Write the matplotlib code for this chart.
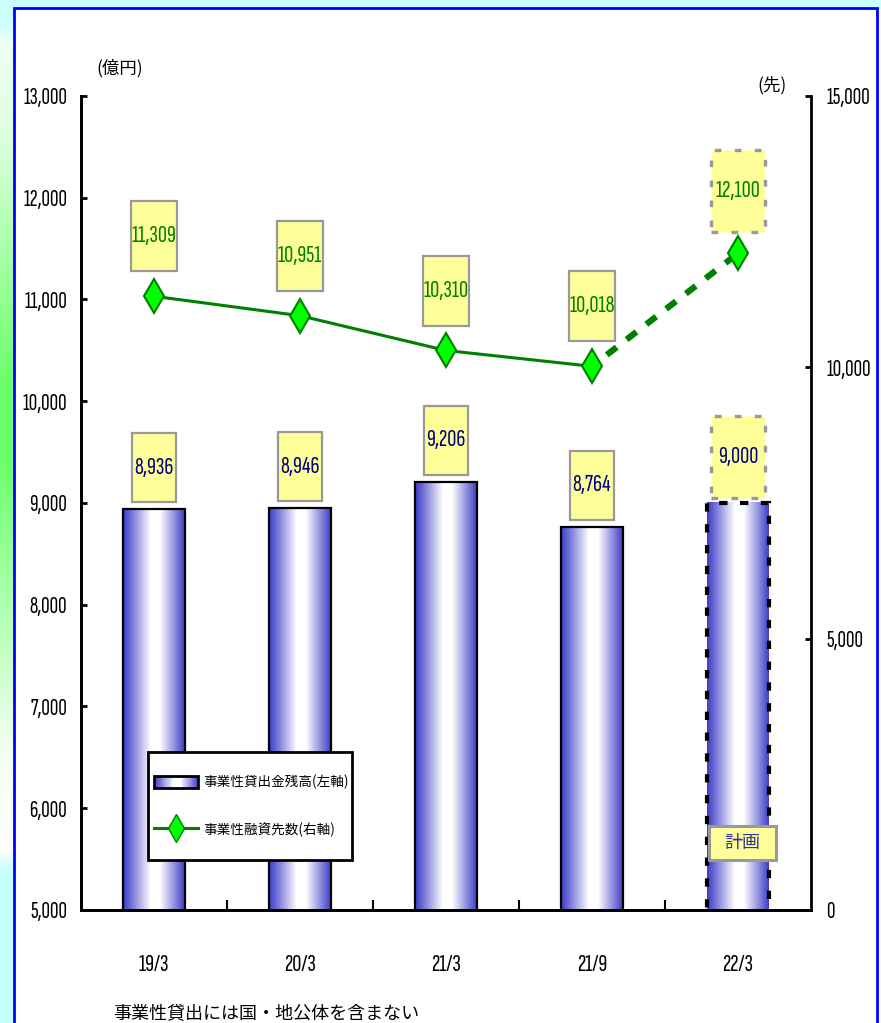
import numpy as np
import matplotlib.pyplot as plt
from matplotlib.patches import Rectangle, Patch
from matplotlib.lines import Line2D
from matplotlib.legend_handler import HandlerBase
from matplotlib.ticker import FuncFormatter

# data
categories = ['19/3', '20/3', '21/3', '21/9', '22/3']
loans = [8936, 8946, 9206, 8764, 9000]            # 事業性貸出金残高 (億円, left axis)
borrowers = [11309, 10951, 10310, 10018, 12100]   # 事業性融資先数 (先, right axis)
left_ticks = [5000, 6000, 7000, 8000, 9000, 10000, 11000, 12000, 13000]
right_ticks = [0, 5000, 10000, 15000]
series_names = ['事業性貸出金残高(左軸)', '事業性融資先数(右軸)']
plan_label = '計画'
note = '事業性貸出には国・地公体を含まない'
plan_idx = 4   # last point is a plan

plt.rcParams['font.family'] = ['Sofia Sans Extra Condensed', 'Noto Sans CJK JP', 'DejaVu Sans']
CJK = ['Noto Sans CJK JP', 'DejaVu Sans']

BLUE = np.array([0.25, 0.25, 0.79])
GREEN = '#008000'


def bar_color(t):
    # share of white across the bar width
    w = np.interp(t, [0, 0.08, 0.45, 0.6, 0.92, 1], [0, 0.15, 1, 1, 0.2, 0])
    return BLUE + (1 - BLUE) * w


class GradientHandler(HandlerBase):
    def create_artists(self, legend, orig_handle, xdescent, ydescent,
                       width, height, fontsize, trans):
        arts = []
        n = 24
        for i in range(n):
            arts.append(Rectangle((-xdescent + width * i / n, -ydescent), width / n + 0.3, height,
                                  facecolor=bar_color((i + 0.5) / n), edgecolor='none',
                                  transform=trans))
        arts.append(Rectangle((-xdescent, -ydescent), width, height, fill=False,
                              edgecolor='black', lw=2, transform=trans))
        return arts


fig = plt.figure(figsize=(8.81, 10.23), dpi=100)

# page background with the coloured strip on the left
H, W = 1023, 881
img = np.ones((H, W, 3))
img[:9, :, 0] = 0.8
ys = np.arange(H)
stops = [0, 25, 40, 130, 380, 460, 750, 850, 868, 1023]
r = np.interp(ys, stops, [0.8, 0.8, 0.93, 0.88, 0.42, 0.42, 0.95, 1.0, 0.78, 0.78])
b = np.interp(ys, stops, [1, 1, 0.95, 0.88, 0.42, 0.42, 0.95, 1.0, 1, 1])
img[:, :14, 0] = r[:, None]
img[:, :14, 2] = b[:, None]
bg = fig.add_axes([0, 0, 1, 1], zorder=-10)
bg.imshow(img, extent=(0, 1, 0, 1), aspect='auto')
bg.axis('off')
fig.add_artist(Rectangle((14 / W, -0.01), (877 - 14) / W, (H - 8) / H + 0.01,
                         transform=fig.transFigure, fill=False, edgecolor='#0000FF', lw=2))

ax = fig.add_axes([0.0919, 0.1105, 0.8286, 0.7957])
ax2 = ax.twinx()

x = np.arange(len(categories))

# bars
bars = ax.bar(x, loans, width=0.42, facecolor='none', edgecolor='black', linewidth=1.6, zorder=3)
bars[plan_idx].set_linestyle((0, (2, 3)))
bars[plan_idx].set_linewidth(3)
grad = np.array([[bar_color(t) for t in np.linspace(0, 1, 80)]])
for bar in bars:
    x0 = bar.get_x()
    ax.imshow(grad, extent=(x0, x0 + bar.get_width(), 5000, bar.get_height()),
              aspect='auto', zorder=2, interpolation='bilinear')

ax.set_xlim(-0.5, 4.5)
ax.set_ylim(5000, 13000)
ax2.set_ylim(0, 15000)


def label_box(a, xc, yb, w, h, text, color, dashed=False):
    a.add_patch(Rectangle((xc - w / 2, yb), w, h, facecolor='#FFFF99', edgecolor='#999999',
                          lw=2.4 if dashed else 1.6,
                          linestyle=(0, (2, 4)) if dashed else '-', zorder=5))
    a.text(xc, yb + h / 2, text, ha='center', va='center', color=color, fontsize=18,
           fontweight='light', zorder=6)


for i, v in enumerate(loans):
    if i == plan_idx:
        label_box(ax, i, v + 50, 0.37, 800, f'{v:,}', '#000080', dashed=True)
    else:
        label_box(ax, i, v + 70, 0.30, 680, f'{v:,}', '#000080')

for i, v in enumerate(borrowers):
    if i == plan_idx:
        label_box(ax2, i, v + 390, 0.37, 1510, f'{v:,}', GREEN, dashed=True)
    else:
        label_box(ax2, i, v + 460, 0.32, 1290, f'{v:,}', GREEN)

# plan marker box
ax.add_patch(Rectangle((plan_idx + 0.03 - 0.23, 5658 - 167), 0.46, 334, facecolor='#FFFF99',
                       edgecolor='#999999', lw=2.2, zorder=5))
ax.text(plan_idx + 0.03, 5658, plan_label, ha='center', va='center', color='#333399',
        fontsize=13, zorder=6, family=CJK)

# line
ax2.plot(x[:plan_idx], borrowers[:plan_idx], color=GREEN, lw=2.2, zorder=3)
ax2.plot(x[plan_idx - 1:], borrowers[plan_idx - 1:], color=GREEN, lw=4.5,
         linestyle=(1, (2, 2)), zorder=3)
ax2.plot(x, borrowers, linestyle='none', marker='d', ms=17, mfc='#00FF00', mec=GREEN,
         mew=1.5, zorder=4)

# axes styling
fmt = FuncFormatter(lambda v, p: f'{v:,.0f}')
ax.set_yticks(left_ticks)
ax.yaxis.set_major_formatter(fmt)
ax2.set_yticks(right_ticks)
ax2.yaxis.set_major_formatter(fmt)
ax.set_xticks(x)
ax.set_xticklabels(categories)
ax.set_xticks([0.5, 1.5, 2.5, 3.5], minor=True)
ax.tick_params(axis='x', which='major', length=0, pad=32, labelsize=18)
ax.tick_params(axis='x', which='minor', direction='in', length=7, width=1.5)
ax.tick_params(axis='y', direction='in', length=4.5, width=2, pad=10, labelsize=17)
ax2.tick_params(axis='y', direction='in', length=4.5, width=2, pad=11, labelsize=17)
for lbl in ax.get_xticklabels() + ax.get_yticklabels() + ax2.get_yticklabels():
    lbl.set_fontweight('light')
for a in (ax, ax2):
    a.spines['top'].set_visible(False)
    for s in ('left', 'right', 'bottom'):
        a.spines[s].set_linewidth(2)
ax.spines['right'].set_visible(False)

ax.text(0.053, 1.034, '(億円)', transform=ax.transAxes, ha='center', va='center',
        fontsize=12.5, family=CJK)
ax.text(0.946, 1.0135, '(先)', transform=ax.transAxes, ha='center', va='center',
        fontsize=12.5, family=CJK)
fig.text(0.302, 0.0098, note, ha='center', va='center', fontsize=13, family=CJK)

# legend with its own frame
ax2.add_patch(Rectangle((0.0919, 0.0614), 0.2798, 0.1327, transform=ax2.transAxes,
                        facecolor='white', edgecolor='black', lw=2, zorder=4.5))
handles = [Patch(facecolor=BLUE, edgecolor='black'),
           Line2D([], [], color=GREEN, lw=2.2, marker='d', ms=14, mfc='#00FF00', mec=GREEN)]
leg = ax2.legend(handles, series_names, handler_map={Patch: GradientHandler()},
                 loc='center left', bbox_to_anchor=(0.093, 0.1278), frameon=False,
                 prop={'family': CJK, 'size': 9.8}, handlelength=3.2,
                 handleheight=1.0, handletextpad=0.4, labelspacing=2.4, borderpad=0.4,
                 borderaxespad=0, numpoints=1)

fig.savefig('out.png', dpi=100)
